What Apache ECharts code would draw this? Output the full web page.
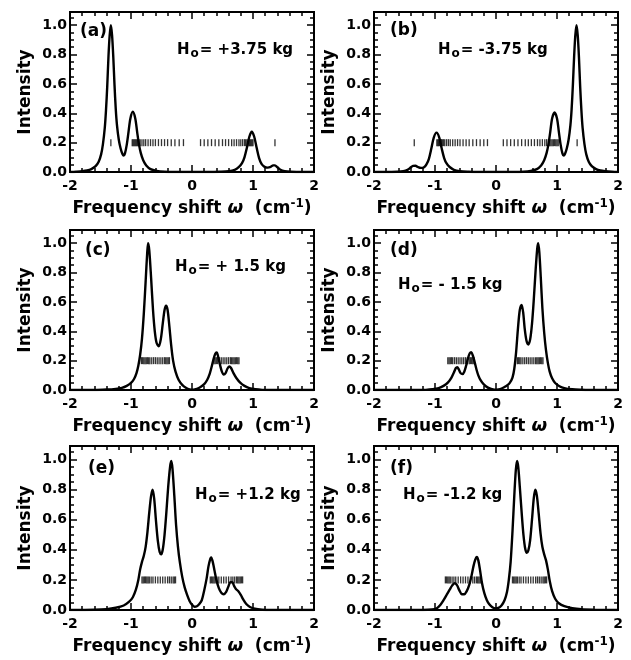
<!DOCTYPE html>
<html><head><meta charset="utf-8">
<script src="https://cdn.jsdelivr.net/npm/echarts@6/dist/echarts.min.js"></script>
<style>html,body{margin:0;padding:0;background:#fff}#c{width:631px;height:660px}</style>
</head><body><div id="c"></div>
<script>
// ---------- data ----------
const panelLabels = ['(a)', '(b)', '(c)', '(d)', '(e)', '(f)'];
const fieldLabels = ['+3.75', '-3.75', '+ 1.5', '- 1.5', '+1.2', '-1.2'];
const xTickLabels = ['-2', '-1', '0', '1', '2'];
const yTickLabels = ['0.0', '0.2', '0.4', '0.6', '0.8', '1.0'];
const levelY = 0.2;

const curveA = [[-2.00,0.000],[-1.90,0.002],[-1.80,0.005],[-1.72,0.010],[-1.65,0.020],[-1.58,0.040],[-1.53,0.070],[-1.49,0.120],[-1.46,0.190],[-1.43,0.300],[-1.41,0.420],[-1.39,0.580],[-1.37,0.780],[-1.35,0.930],[-1.33,1.000],[-1.31,0.930],[-1.29,0.780],[-1.27,0.590],[-1.25,0.430],[-1.23,0.320],[-1.20,0.220],[-1.17,0.160],[-1.14,0.122],[-1.12,0.112],[-1.10,0.125],[-1.07,0.185],[-1.04,0.275],[-1.01,0.365],[-0.97,0.410],[-0.93,0.365],[-0.90,0.275],[-0.87,0.190],[-0.84,0.130],[-0.80,0.080],[-0.75,0.045],[-0.68,0.020],[-0.58,0.008],[-0.45,0.002],[-0.30,0.000],[0.30,0.000],[0.45,0.002],[0.60,0.006],[0.70,0.015],[0.77,0.035],[0.82,0.060],[0.86,0.100],[0.90,0.165],[0.94,0.240],[0.98,0.275],[1.02,0.240],[1.06,0.165],[1.10,0.095],[1.14,0.055],[1.19,0.035],[1.24,0.030],[1.29,0.035],[1.33,0.045],[1.36,0.045],[1.40,0.032],[1.45,0.015],[1.52,0.006],[1.62,0.002],[1.80,0.000],[2.00,0.000]];
const curveB = [[-2.00,0.000],[-1.80,0.000],[-1.62,0.002],[-1.52,0.006],[-1.45,0.015],[-1.40,0.030],[-1.36,0.042],[-1.32,0.043],[-1.28,0.034],[-1.23,0.028],[-1.18,0.033],[-1.14,0.052],[-1.10,0.090],[-1.06,0.160],[-1.02,0.235],[-0.975,0.268],[-0.93,0.235],[-0.89,0.160],[-0.85,0.095],[-0.81,0.058],[-0.76,0.034],[-0.69,0.015],[-0.59,0.006],[-0.45,0.002],[-0.30,0.000],[0.30,0.000],[0.45,0.002],[0.57,0.008],[0.67,0.020],[0.74,0.045],[0.79,0.080],[0.83,0.130],[0.86,0.190],[0.89,0.275],[0.92,0.365],[0.96,0.405],[1.00,0.365],[1.03,0.275],[1.06,0.185],[1.09,0.125],[1.11,0.112],[1.13,0.122],[1.16,0.160],[1.19,0.220],[1.22,0.320],[1.24,0.430],[1.26,0.590],[1.28,0.780],[1.30,0.930],[1.32,1.000],[1.34,0.930],[1.36,0.780],[1.38,0.580],[1.40,0.420],[1.42,0.300],[1.45,0.190],[1.48,0.120],[1.52,0.070],[1.57,0.040],[1.64,0.020],[1.71,0.010],[1.80,0.005],[1.90,0.002],[2.00,0.000]];
const curveC = [[-2.00,0.000],[-1.60,0.000],[-1.40,0.003],[-1.25,0.008],[-1.15,0.015],[-1.07,0.028],[-1.00,0.048],[-0.95,0.075],[-0.91,0.115],[-0.88,0.165],[-0.85,0.240],[-0.82,0.350],[-0.79,0.520],[-0.76,0.740],[-0.735,0.930],[-0.72,1.000],[-0.70,0.950],[-0.67,0.760],[-0.64,0.550],[-0.61,0.400],[-0.58,0.320],[-0.545,0.298],[-0.51,0.350],[-0.48,0.450],[-0.45,0.545],[-0.425,0.575],[-0.40,0.545],[-0.37,0.430],[-0.34,0.300],[-0.31,0.200],[-0.27,0.125],[-0.22,0.070],[-0.16,0.035],[-0.10,0.015],[-0.04,0.004],[0.02,0.002],[0.08,0.008],[0.14,0.020],[0.20,0.040],[0.25,0.070],[0.29,0.110],[0.32,0.155],[0.35,0.205],[0.38,0.245],[0.405,0.255],[0.43,0.225],[0.46,0.170],[0.49,0.125],[0.52,0.105],[0.55,0.115],[0.58,0.145],[0.61,0.160],[0.64,0.150],[0.68,0.115],[0.73,0.080],[0.79,0.050],[0.86,0.028],[0.94,0.013],[1.04,0.005],[1.15,0.001],[1.30,0.000],[2.00,0.000]];
const curveD = [[-2.00,0.000],[-1.30,0.000],[-1.15,0.001],[-1.04,0.005],[-0.94,0.013],[-0.86,0.028],[-0.79,0.050],[-0.73,0.085],[-0.69,0.120],[-0.66,0.148],[-0.635,0.155],[-0.61,0.140],[-0.58,0.115],[-0.55,0.108],[-0.52,0.125],[-0.49,0.165],[-0.46,0.215],[-0.43,0.250],[-0.405,0.258],[-0.38,0.235],[-0.35,0.190],[-0.32,0.140],[-0.29,0.100],[-0.25,0.065],[-0.20,0.038],[-0.14,0.018],[-0.08,0.007],[-0.02,0.002],[0.04,0.004],[0.10,0.012],[0.16,0.025],[0.22,0.045],[0.27,0.085],[0.30,0.145],[0.33,0.260],[0.36,0.420],[0.39,0.545],[0.42,0.580],[0.445,0.530],[0.47,0.420],[0.50,0.335],[0.53,0.310],[0.56,0.345],[0.59,0.450],[0.62,0.620],[0.65,0.820],[0.675,0.960],[0.69,1.000],[0.71,0.940],[0.735,0.760],[0.76,0.560],[0.79,0.390],[0.82,0.270],[0.85,0.185],[0.88,0.125],[0.92,0.080],[0.97,0.048],[1.04,0.026],[1.12,0.013],[1.25,0.005],[1.40,0.002],[1.60,0.000],[2.00,0.000]];
const curveE = [[-2.00,0.000],[-1.60,0.002],[-1.40,0.006],[-1.25,0.015],[-1.12,0.030],[-1.03,0.055],[-0.97,0.085],[-0.92,0.135],[-0.88,0.200],[-0.85,0.270],[-0.82,0.320],[-0.79,0.360],[-0.76,0.420],[-0.73,0.520],[-0.70,0.650],[-0.67,0.760],[-0.645,0.800],[-0.62,0.740],[-0.59,0.590],[-0.56,0.460],[-0.53,0.385],[-0.505,0.370],[-0.48,0.400],[-0.45,0.500],[-0.42,0.650],[-0.39,0.820],[-0.36,0.950],[-0.34,0.990],[-0.32,0.940],[-0.29,0.760],[-0.26,0.560],[-0.23,0.420],[-0.20,0.320],[-0.16,0.220],[-0.12,0.150],[-0.08,0.100],[-0.04,0.060],[0.00,0.035],[0.04,0.022],[0.08,0.025],[0.12,0.040],[0.16,0.065],[0.20,0.130],[0.24,0.210],[0.27,0.290],[0.30,0.340],[0.315,0.350],[0.34,0.320],[0.37,0.260],[0.40,0.200],[0.44,0.145],[0.48,0.115],[0.52,0.105],[0.56,0.120],[0.60,0.160],[0.63,0.185],[0.66,0.185],[0.69,0.160],[0.72,0.140],[0.76,0.125],[0.80,0.100],[0.84,0.070],[0.89,0.040],[0.95,0.020],[1.03,0.008],[1.15,0.002],[1.30,0.000],[2.00,0.000]];
const curveF = [[-2.00,0.000],[-1.20,0.000],[-1.05,0.003],[-0.97,0.012],[-0.91,0.035],[-0.86,0.065],[-0.81,0.100],[-0.76,0.135],[-0.72,0.162],[-0.68,0.178],[-0.64,0.165],[-0.60,0.130],[-0.56,0.105],[-0.52,0.105],[-0.48,0.125],[-0.44,0.165],[-0.40,0.230],[-0.37,0.290],[-0.34,0.335],[-0.315,0.352],[-0.29,0.330],[-0.26,0.260],[-0.23,0.180],[-0.19,0.110],[-0.15,0.065],[-0.11,0.038],[-0.06,0.018],[-0.01,0.010],[0.04,0.014],[0.09,0.030],[0.14,0.065],[0.18,0.120],[0.21,0.200],[0.24,0.320],[0.27,0.520],[0.30,0.760],[0.325,0.930],[0.345,0.990],[0.365,0.950],[0.39,0.820],[0.42,0.650],[0.45,0.500],[0.48,0.405],[0.505,0.380],[0.53,0.395],[0.56,0.465],[0.59,0.600],[0.62,0.745],[0.645,0.800],[0.67,0.760],[0.70,0.640],[0.73,0.510],[0.76,0.420],[0.79,0.370],[0.82,0.330],[0.85,0.270],[0.88,0.195],[0.92,0.125],[0.97,0.075],[1.03,0.045],[1.12,0.025],[1.25,0.012],[1.40,0.005],[1.60,0.002],[2.00,0.000]];

const ticksA = [-1.33,-0.98,-0.965,-0.95,-0.935,-0.92,-0.905,-0.89,-0.87,-0.85,-0.82,-0.79,-0.76,-0.72,-0.68,-0.64,-0.60,-0.55,-0.50,-0.45,-0.40,-0.34,-0.28,-0.21,-0.14,0.14,0.20,0.26,0.32,0.38,0.44,0.50,0.55,0.60,0.65,0.69,0.73,0.77,0.80,0.83,0.86,0.88,0.90,0.92,0.94,0.955,0.97,0.985,1.00,1.36];
const ticksB = [-1.34,-0.97,-0.955,-0.94,-0.925,-0.91,-0.895,-0.88,-0.86,-0.84,-0.81,-0.78,-0.75,-0.71,-0.67,-0.63,-0.59,-0.54,-0.49,-0.44,-0.38,-0.32,-0.26,-0.20,-0.14,0.12,0.18,0.24,0.30,0.36,0.42,0.48,0.53,0.58,0.63,0.68,0.72,0.76,0.80,0.83,0.86,0.88,0.90,0.92,0.94,0.96,0.98,1.00,1.02,1.33];
const ticksC = [-0.83,-0.81,-0.79,-0.77,-0.75,-0.73,-0.71,-0.69,-0.66,-0.63,-0.60,-0.57,-0.54,-0.51,-0.48,-0.45,-0.43,-0.41,-0.39,-0.37,0.36,0.38,0.40,0.42,0.45,0.48,0.51,0.54,0.57,0.60,0.63,0.65,0.67,0.69,0.71,0.73,0.75,0.77];
const ticksD = [-0.79,-0.77,-0.75,-0.73,-0.71,-0.68,-0.65,-0.62,-0.59,-0.56,-0.53,-0.50,-0.47,-0.44,-0.42,-0.40,-0.38,-0.36,0.35,0.37,0.39,0.41,0.44,0.47,0.50,0.53,0.56,0.59,0.62,0.65,0.67,0.69,0.71,0.73,0.75,0.77];
const ticksE = [-0.82,-0.80,-0.78,-0.76,-0.74,-0.72,-0.70,-0.67,-0.64,-0.60,-0.56,-0.52,-0.48,-0.44,-0.40,-0.37,-0.34,-0.31,-0.29,-0.27,0.30,0.32,0.34,0.36,0.38,0.41,0.44,0.48,0.52,0.56,0.60,0.64,0.67,0.70,0.73,0.75,0.77,0.79,0.81,0.83];
const ticksF = [-0.83,-0.81,-0.79,-0.77,-0.75,-0.72,-0.69,-0.66,-0.62,-0.58,-0.54,-0.50,-0.46,-0.42,-0.38,-0.35,-0.32,-0.30,-0.28,-0.26,-0.24,0.27,0.29,0.31,0.33,0.35,0.38,0.41,0.45,0.49,0.53,0.57,0.61,0.65,0.68,0.71,0.74,0.77,0.79,0.81,0.83];

// ---------- layout / style ----------
const FONT = 'DejaVu Sans';
const W = 'bold';
const curves = [curveA, curveB, curveC, curveD, curveE, curveF];
const levels = [ticksA, ticksB, ticksC, ticksD, ticksE, ticksF];
const grids = [
  {left: 70, top: 12, width: 244, height: 160},
  {left: 374, top: 12, width: 244, height: 160},
  {left: 70, top: 230, width: 244, height: 160},
  {left: 374, top: 230, width: 244, height: 160},
  {left: 70, top: 446, width: 244, height: 164},
  {left: 374, top: 446, width: 244, height: 164}
];
const panelPos = [[80, 33], [390, 32], [85, 252], [390, 252], [88, 470], [390, 470]];
const fieldPos = [[177, 50], [438, 50], [175, 267], [398, 285], [195, 495], [403, 495]];

function yLabel(v) {
  const i = Math.round(v / 0.2);
  return (Math.abs(v - i * 0.2) < 1e-6 && i < yTickLabels.length) ? yTickLabels[i] : '';
}
const tickLine = {color: '#000', width: 1.5};

const option = {animation: false, backgroundColor: '#fff', grid: [], xAxis: [], yAxis: [], series: [], graphic: []};

grids.forEach((g, i) => {
  option.grid.push(Object.assign({show: true, borderColor: '#000', borderWidth: 2, backgroundColor: 'transparent'}, g));
  const xBase = {
    gridIndex: i, type: 'value', min: -2, max: 2, interval: 1,
    axisLine: {show: false, onZero: false}, splitLine: {show: false}, minorSplitLine: {show: false},
    axisTick: {inside: true, length: 7, lineStyle: tickLine},
    minorTick: {show: true, splitNumber: 5, length: 4, lineStyle: tickLine}
  };
  const xi = option.xAxis.length;
  option.xAxis.push(Object.assign({}, xBase, {
    position: 'bottom',
    axisLabel: {margin: 7, fontSize: 14, fontWeight: W, fontFamily: FONT, color: '#000', formatter: v => xTickLabels[Math.round(v) + 2]},
    name: 'Frequency shift {w|ω}  (cm{s|-1})', nameLocation: 'middle', nameGap: 26,
    nameTextStyle: {fontSize: 17, fontWeight: W, fontFamily: FONT, color: '#000',
      rich: {
        w: {fontSize: 18, fontFamily: FONT, color: '#000', fontStyle: 'italic', fontWeight: 'bold'},
        s: {fontSize: 12, fontFamily: FONT, fontWeight: W, color: '#000', padding: [0, 0, 9, 0]}
      }}
  }));
  option.xAxis.push(Object.assign({}, xBase, {position: 'top', axisLabel: {show: false}}));
  const yBase = {gridIndex: i, type: 'value', min: 0, max: 1.09, axisLine: {show: false, onZero: false}, splitLine: {show: false}};
  const yi = option.yAxis.length;
  option.yAxis.push(Object.assign({}, yBase, {
    position: 'left', interval: 0.2,
    axisTick: {inside: true, length: 7, lineStyle: tickLine},
    axisLabel: {margin: 3, fontSize: 14, fontWeight: W, fontFamily: FONT, color: '#000', formatter: yLabel},
    name: 'Intensity', nameLocation: 'middle', nameGap: 36,
    nameTextStyle: {fontSize: 17, fontWeight: W, fontFamily: FONT, color: '#000'}
  }));
  option.yAxis.push(Object.assign({}, yBase, {position: 'left', interval: 0.05,
    axisTick: {inside: true, length: 4, lineStyle: tickLine}, axisLabel: {show: false}}));
  option.yAxis.push(Object.assign({}, yBase, {position: 'right', interval: 0.2,
    axisTick: {inside: true, length: 7, lineStyle: tickLine}, axisLabel: {show: false}}));
  option.yAxis.push(Object.assign({}, yBase, {position: 'right', interval: 0.05,
    axisTick: {inside: true, length: 4, lineStyle: tickLine}, axisLabel: {show: false}}));

  option.series.push({
    type: 'line', xAxisIndex: xi, yAxisIndex: yi, data: curves[i],
    showSymbol: false, smooth: 0.3, lineStyle: {color: '#000', width: 2.4}, z: 3
  });
  option.series.push({
    type: 'scatter', xAxisIndex: xi, yAxisIndex: yi,
    data: levels[i].map(x => [x, levelY]),
    symbol: 'rect', symbolSize: [1.3, 7], itemStyle: {color: '#000'}, z: 4
  });

  option.graphic.push({
    type: 'text', left: panelPos[i][0], top: panelPos[i][1] - 10,
    style: {text: panelLabels[i], fontSize: 17, fontWeight: W, fontFamily: FONT, fill: '#000'}
  });
  option.graphic.push({
    type: 'text', x: fieldPos[i][0], y: fieldPos[i][1],
    style: {
      text: 'H{s|o}= ' + fieldLabels[i] + ' kg', fontSize: 15, fontWeight: W, fontFamily: FONT, fill: '#000',
      verticalAlign: 'middle', align: 'left',
      rich: {s: {fontSize: 12, fontWeight: W, fontFamily: FONT, fill: '#000', padding: [8, 1, 0, 1]}}
    }
  });
});

const chart = echarts.init(document.getElementById('c'), null, {renderer: 'canvas'});
chart.setOption(option);
</script>
</body></html>
